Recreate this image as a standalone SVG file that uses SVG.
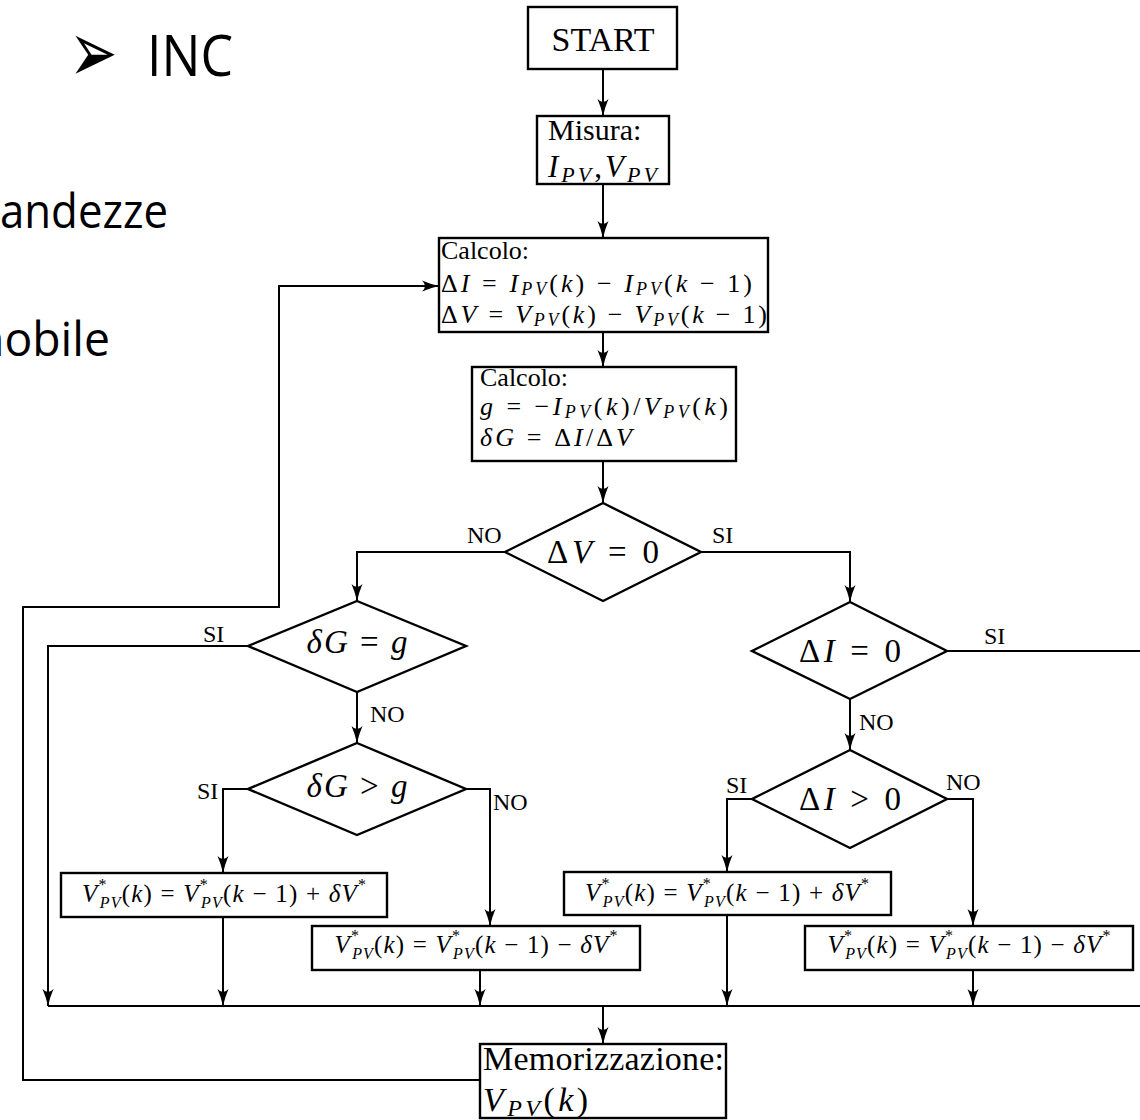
<svg xmlns="http://www.w3.org/2000/svg" width="1140" height="1120" viewBox="0 0 1140 1120">
<style>
.box{fill:#fff;stroke:#000;stroke-width:2.4}
.ln{fill:none;stroke:#000;stroke-width:2}
.arr{marker-end:url(#ah)}
.rm{font-family:"Liberation Serif","DejaVu Serif",serif;fill:#000}
.i{font-style:italic}
.lbl{font-family:"Liberation Serif","DejaVu Serif",serif;font-size:24px;fill:#000}
.sans{font-family:"Open Sans","Noto Sans","DejaVu Sans",sans-serif;fill:#000}
</style>
<defs>
<marker id="ah" markerUnits="userSpaceOnUse" markerWidth="20" markerHeight="14" viewBox="-18 -7 20 14" refX="0" refY="0" orient="auto">
<path d="M0,0 Q-9,-2 -17,-5.5 Q-11,0 -17,5.5 Q-9,2 0,0 Z" fill="#000"/>
</marker>
</defs>
<rect width="1140" height="1120" fill="#fff"/>

<g id="slide-text">
<g transform="translate(69,81.5) scale(1,1.5)"><text x="0" y="0" font-family="DejaVu Sans,sans-serif" font-size="58" fill="#000">➢</text></g>
<text x="147" y="76" class="sans" font-size="57" textLength="86" lengthAdjust="spacingAndGlyphs">INC</text>
<text x="0" y="228" class="sans" font-size="47" textLength="168" lengthAdjust="spacingAndGlyphs">andezze</text>
<text x="-24" y="356" class="sans" font-size="47" textLength="134" lengthAdjust="spacingAndGlyphs">nobile</text>
</g>

<g id="connectors">
<path class="ln arr" d="M603,69 V116"/>
<path class="ln arr" d="M603,184 V238"/>
<path class="ln arr" d="M603,332 V367"/>
<path class="ln arr" d="M603,461 V503"/>
<path class="ln arr" d="M505,552 H357 V601"/>
<path class="ln arr" d="M701,552 H850 V602"/>
<path class="ln arr" d="M248,646 H48 V1006"/>
<path class="ln arr" d="M357,692 V743"/>
<path class="ln arr" d="M248,789 H223 V873"/>
<path class="ln arr" d="M466,789 H490 V926"/>
<path class="ln arr" d="M223,917 V1006"/>
<path class="ln arr" d="M480,970 V1006"/>
<path class="ln" d="M947,651 H1140"/>
<path class="ln arr" d="M850,699 V750"/>
<path class="ln arr" d="M752,799 H727 V872"/>
<path class="ln arr" d="M947,799 H973 V926"/>
<path class="ln arr" d="M727,915 V1006"/>
<path class="ln arr" d="M973,970 V1006"/>
<path class="ln" d="M48,1006 H1140"/>
<path class="ln arr" d="M603,1006 V1044"/>
<path class="ln arr" d="M480,1080 H23 V607 H279 V286 H439"/>
<text class="lbl" x="467" y="543">NO</text>
<text class="lbl" x="712" y="543">SI</text>
<text class="lbl" x="203" y="642">SI</text>
<text class="lbl" x="370" y="722">NO</text>
<text class="lbl" x="197" y="799">SI</text>
<text class="lbl" x="493" y="810">NO</text>
<text class="lbl" x="984" y="644">SI</text>
<text class="lbl" x="859" y="730">NO</text>
<text class="lbl" x="726" y="793">SI</text>
<text class="lbl" x="946" y="790">NO</text>
</g>

<g id="start">
<rect class="box" x="528" y="7" width="149" height="62"/>
<text class="rm" x="603" y="51" font-size="34" text-anchor="middle">START</text>
</g>

<g id="misura">
<rect class="box" x="537" y="116" width="132" height="68"/>
<text class="rm" x="548" y="140" font-size="30">Misura:</text>
<text class="rm" x="548" y="177" font-size="31" textLength="109"><tspan class="i">I</tspan><tspan class="i" font-size="22" dy="5">PV</tspan><tspan dy="-5">,</tspan><tspan class="i">V</tspan><tspan class="i" font-size="22" dy="5">PV</tspan></text>
</g>

<g id="calcolo1">
<rect class="box" x="439" y="238" width="329" height="94"/>
<text class="rm" x="441" y="259" font-size="26">Calcolo:</text>
<text class="rm" x="441" y="292" font-size="26" textLength="311">Δ<tspan class="i">I</tspan> = <tspan class="i">I</tspan><tspan class="i" font-size="18" dy="3">PV</tspan><tspan dy="-3">(</tspan><tspan class="i">k</tspan>) − <tspan class="i">I</tspan><tspan class="i" font-size="18" dy="3">PV</tspan><tspan dy="-3">(</tspan><tspan class="i">k</tspan> − 1)</text>
<text class="rm" x="441" y="323" font-size="26" textLength="326">Δ<tspan class="i">V</tspan> = <tspan class="i">V</tspan><tspan class="i" font-size="18" dy="3">PV</tspan><tspan dy="-3">(</tspan><tspan class="i">k</tspan>) − <tspan class="i">V</tspan><tspan class="i" font-size="18" dy="3">PV</tspan><tspan dy="-3">(</tspan><tspan class="i">k</tspan> − 1)</text>
</g>

<g id="calcolo2">
<rect class="box" x="472" y="367" width="264" height="94"/>
<text class="rm" x="480" y="386" font-size="26">Calcolo:</text>
<text class="rm" x="480" y="415" font-size="26" textLength="248"><tspan class="i">g</tspan> = −<tspan class="i">I</tspan><tspan class="i" font-size="18" dy="3">PV</tspan><tspan dy="-3">(</tspan><tspan class="i">k</tspan>)/<tspan class="i">V</tspan><tspan class="i" font-size="18" dy="3">PV</tspan><tspan dy="-3">(</tspan><tspan class="i">k</tspan>)</text>
<text class="rm" x="480" y="446" font-size="26" textLength="152"><tspan class="i">δG</tspan> = Δ<tspan class="i">I</tspan>/Δ<tspan class="i">V</tspan></text>
</g>

<g id="dec-dv">
<polygon class="box" points="603,503 701,552 603,601 505,552"/>
<text class="rm" x="603" y="563" font-size="33" text-anchor="middle" textLength="112">Δ<tspan class="i">V</tspan> = 0</text>
</g>

<g id="dec-dg-eq">
<polygon class="box" points="357,601 466,646 357,692 248,646"/>
<text class="rm" x="357" y="653" font-size="33" text-anchor="middle" textLength="101"><tspan class="i">δG</tspan> = <tspan class="i">g</tspan></text>
</g>

<g id="dec-dg-gt">
<polygon class="box" points="357,743 466,789 357,835 248,789"/>
<text class="rm" x="357" y="797" font-size="33" text-anchor="middle" textLength="101"><tspan class="i">δG</tspan> &gt; <tspan class="i">g</tspan></text>
</g>

<g id="dec-di-eq">
<polygon class="box" points="850,602 947,651 850,699 752,651"/>
<text class="rm" x="850" y="662" font-size="33" text-anchor="middle" textLength="102">Δ<tspan class="i">I</tspan> = 0</text>
</g>

<g id="dec-di-gt">
<polygon class="box" points="850,750 947,799 850,848 752,799"/>
<text class="rm" x="850" y="810" font-size="33" text-anchor="middle" textLength="102">Δ<tspan class="i">I</tspan> &gt; 0</text>
</g>

<g id="inc-left">
<rect class="box" x="61" y="873" width="326" height="44"/>
<text class="rm" x="224" y="902" font-size="25" text-anchor="middle" textLength="284"><tspan class="i">V</tspan><tspan font-size="16" dy="-12">*</tspan><tspan class="i" font-size="16" dx="-8" dy="18">PV</tspan><tspan dy="-6">(</tspan><tspan class="i">k</tspan>) = <tspan class="i">V</tspan><tspan font-size="16" dy="-12">*</tspan><tspan class="i" font-size="16" dx="-8" dy="18">PV</tspan><tspan dy="-6">(</tspan><tspan class="i">k</tspan> − 1) + <tspan class="i">δV</tspan><tspan font-size="16" dy="-12">*</tspan></text>
</g>

<g id="dec-left">
<rect class="box" x="312" y="926" width="328" height="44"/>
<text class="rm" x="476" y="953" font-size="25" text-anchor="middle" textLength="283"><tspan class="i">V</tspan><tspan font-size="16" dy="-12">*</tspan><tspan class="i" font-size="16" dx="-8" dy="18">PV</tspan><tspan dy="-6">(</tspan><tspan class="i">k</tspan>) = <tspan class="i">V</tspan><tspan font-size="16" dy="-12">*</tspan><tspan class="i" font-size="16" dx="-8" dy="18">PV</tspan><tspan dy="-6">(</tspan><tspan class="i">k</tspan> − 1) − <tspan class="i">δV</tspan><tspan font-size="16" dy="-12">*</tspan></text>
</g>

<g id="inc-right">
<rect class="box" x="564" y="872" width="327" height="43"/>
<text class="rm" x="727" y="901" font-size="25" text-anchor="middle" textLength="284"><tspan class="i">V</tspan><tspan font-size="16" dy="-12">*</tspan><tspan class="i" font-size="16" dx="-8" dy="18">PV</tspan><tspan dy="-6">(</tspan><tspan class="i">k</tspan>) = <tspan class="i">V</tspan><tspan font-size="16" dy="-12">*</tspan><tspan class="i" font-size="16" dx="-8" dy="18">PV</tspan><tspan dy="-6">(</tspan><tspan class="i">k</tspan> − 1) + <tspan class="i">δV</tspan><tspan font-size="16" dy="-12">*</tspan></text>
</g>

<g id="dec-right">
<rect class="box" x="805" y="926" width="328" height="44"/>
<text class="rm" x="969" y="953" font-size="25" text-anchor="middle" textLength="283"><tspan class="i">V</tspan><tspan font-size="16" dy="-12">*</tspan><tspan class="i" font-size="16" dx="-8" dy="18">PV</tspan><tspan dy="-6">(</tspan><tspan class="i">k</tspan>) = <tspan class="i">V</tspan><tspan font-size="16" dy="-12">*</tspan><tspan class="i" font-size="16" dx="-8" dy="18">PV</tspan><tspan dy="-6">(</tspan><tspan class="i">k</tspan> − 1) − <tspan class="i">δV</tspan><tspan font-size="16" dy="-12">*</tspan></text>
</g>

<g id="memorizzazione">
<rect class="box" x="480" y="1044" width="246" height="74"/>
<text class="rm" x="483" y="1070" font-size="34" textLength="241">Memorizzazione:</text>
<text class="rm" x="483" y="1111" font-size="34" textLength="105"><tspan class="i">V</tspan><tspan class="i" font-size="24" dy="5">PV</tspan><tspan dy="-5">(</tspan><tspan class="i">k</tspan>)</text>
</g>
</svg>
